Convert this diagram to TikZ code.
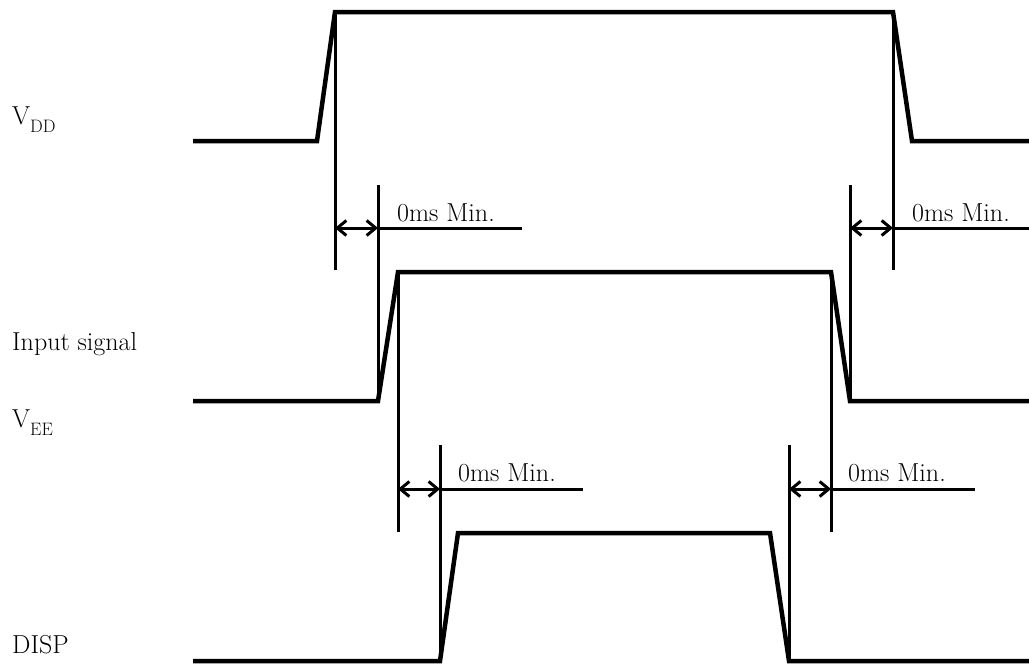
\documentclass[tikz,border=0pt]{standalone}
\usetikzlibrary{arrows.meta}
\newcommand{\signame}[2]{#1{\fontsize{18}{18}\selectfont\raisebox{-8pt}{#2}}}
\begin{document}
\begin{tikzpicture}[
  x=1pt,y=-1pt,font=\fontsize{26}{30}\selectfont,
  wave/.style={line width=4.5pt,line join=miter},
  guide/.style={line width=3pt},
  gap arrow/.style={line width=3pt,
    {Straight Barb[length=9pt,width=15pt]}-{Straight Barb[length=9pt,width=15pt]}},
  signal label/.style={anchor=base west,inner sep=0pt},
  min label/.style={anchor=base west,inner sep=0pt}
]
  \useasboundingbox (0,0) rectangle (1029,664);

  % Signal names on the left.
  \node[signal label] (vdd) at (12,124) {\signame{V}{DD}};
  \node[signal label] (input) at (12,350) {Input signal};
  \node[signal label] (vee) at (12,427) {\signame{V}{EE}};
  \node[signal label] (disp) at (12,653) {DISP};

  % Corners of the three waveforms.
  \coordinate (vdd low) at (317,141);
  \coordinate (vdd up) at (335,12);
  \coordinate (vdd down) at (893,12);
  \coordinate (vdd off) at (912,141);
  \coordinate (in low) at (378,401);
  \coordinate (in up) at (398,272);
  \coordinate (in down) at (831,272);
  \coordinate (in off) at (850,401);
  \coordinate (disp low) at (440,661);
  \coordinate (disp up) at (458,533);
  \coordinate (disp down) at (770,533);
  \coordinate (disp off) at (789,661);

  \draw[wave] (193,141) -- (vdd low) -- (vdd up) -- (vdd down)
    -- (vdd off) -- (1029,141);
  \draw[wave] (193,401) -- (in low) -- (in up) -- (in down)
    -- (in off) -- (1029,401);
  \draw[wave] (193,661) -- (disp low) -- (disp up) -- (disp down)
    -- (disp off) -- (1029,661);

  % Timing marks between VDD and the input signal.
  \coordinate (top level) at (0,228);
  \coordinate (top guide end) at (0,270);
  \coordinate (top guide start) at (0,185);
  \draw[guide] (vdd up) -- (vdd up |- top guide end);
  \draw[guide] (in low |- top guide start) -- (in low);
  \draw[guide] (vdd down) -- (vdd down |- top guide end);
  \draw[guide] (in off |- top guide start) -- (in off);
  \draw[gap arrow] (vdd up |- top level) -- (in low |- top level);
  \draw[gap arrow] (in off |- top level) -- (vdd down |- top level);
  \coordinate (top left end) at (522,228);
  \coordinate (top right end) at (1029,228);
  \draw[guide] (in low |- top level) -- (top left end);
  \draw[guide] (vdd down |- top level) -- (top right end);
  \node[min label] (min a) at (397,221) {0ms Min.};
  \node[min label] (min b) at (912,221) {0ms Min.};

  % Timing marks between the input signal and DISP.
  \coordinate (low level) at (0,489);
  \coordinate (low guide end) at (0,532);
  \coordinate (low guide start) at (0,445);
  \draw[guide] (in up) -- (in up |- low guide end);
  \draw[guide] (disp low |- low guide start) -- (disp low);
  \draw[guide] (in down) -- (in down |- low guide end);
  \draw[guide] (disp off |- low guide start) -- (disp off);
  \draw[gap arrow] (in up |- low level) -- (disp low |- low level);
  \draw[gap arrow] (disp off |- low level) -- (in down |- low level);
  \coordinate (low left end) at (583,489);
  \coordinate (low right end) at (975,489);
  \draw[guide] (disp low |- low level) -- (low left end);
  \draw[guide] (in down |- low level) -- (low right end);
  \node[min label] (min c) at (458,481) {0ms Min.};
  \node[min label] (min d) at (848,481) {0ms Min.};
\end{tikzpicture}
\end{document}
